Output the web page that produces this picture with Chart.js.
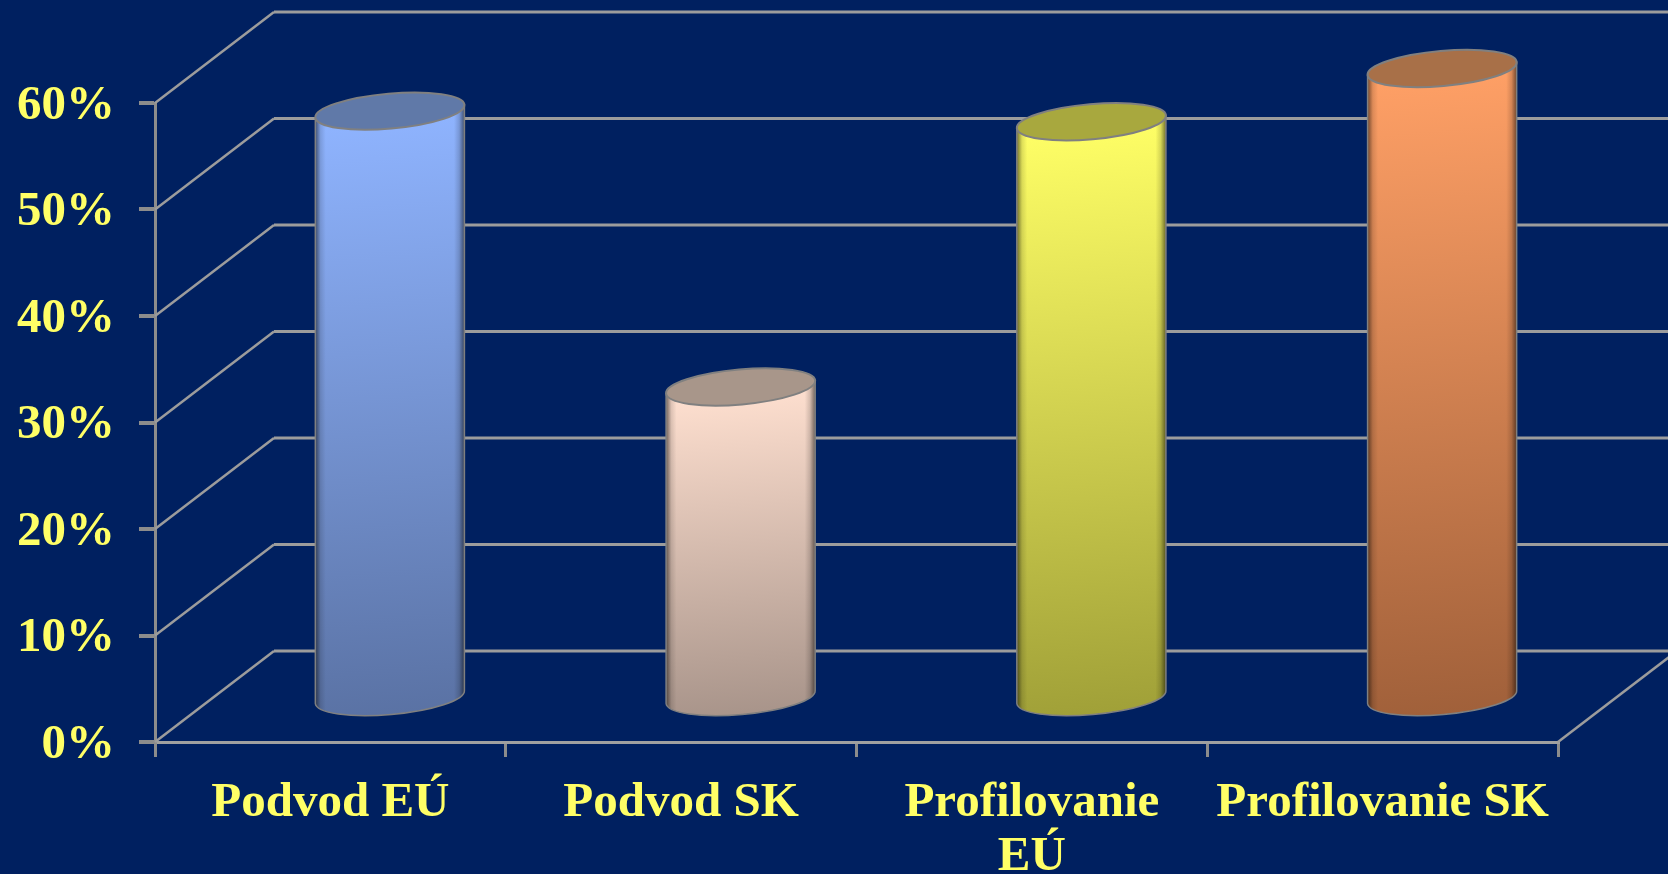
<!DOCTYPE html>
<html>
<head>
<meta charset="utf-8">
<style>html,body{margin:0;padding:0;background:#002060;overflow:hidden}canvas{display:block}</style>
<script src="https://cdn.jsdelivr.net/npm/chart.js@4"></script>
</head>
<body>
<canvas id="c" width="1668" height="874"></canvas>
<script>
const categories = ['Podvod EÚ', 'Podvod SK', ['Profilovanie', 'EÚ'], 'Profilovanie SK'];
const values = [55.2, 29.3, 54.2, 59.2];
const yTicksStep = 10;
const yMax = 60;

const topColors = ['#8fb4ff', '#ffe0d0', '#ffff66', '#ffa066'];
const bottomColors = ['#5a72a4', '#a8948a', '#a0a038', '#a0603a'];
const capColors = ['#6079a8', '#a8968a', '#a8a83e', '#a87048'];

const BG = '#002060', TEXT = '#ffff66', LINE = '#9c9c9c';
const DEPTH_X = 119, DEPTH_Y = -91, BAR_LIFT = 43;
const TILT = 5 * Math.PI / 180, MINOR = 17.5;

const wall3d = {
  id: 'wall3d',
  beforeDatasetsDraw(chart) {
    const {ctx, scales: {x, y}} = chart;
    ctx.save();
    ctx.strokeStyle = LINE;
    ctx.lineJoin = 'round';
    for (const t of y.ticks) {
      const py = y.getPixelForValue(t.value);
      ctx.lineWidth = 2.5;
      ctx.beginPath();
      ctx.moveTo(x.left, py);
      ctx.lineTo(x.left + DEPTH_X, py + DEPTH_Y);
      ctx.stroke();
      ctx.lineWidth = 3;
      ctx.beginPath();
      ctx.moveTo(x.left + DEPTH_X, py + DEPTH_Y);
      ctx.lineTo(x.right + DEPTH_X, py + DEPTH_Y);
      ctx.stroke();
    }
    const b = y.getPixelForValue(0);
    ctx.lineWidth = 2.5;
    ctx.beginPath();
    ctx.moveTo(x.right, b);
    ctx.lineTo(x.right + DEPTH_X, b + DEPTH_Y);
    ctx.stroke();
    ctx.restore();
  },
  beforeDatasetDraw(chart, args) {
    const ctx = chart.ctx;
    args.meta.data.forEach((el, i) => {
      const p = el.getProps(['x', 'y', 'base', 'width'], true);
      const cx = p.x + DEPTH_X / 2;
      const top = p.y - BAR_LIFT;
      const base = p.base - BAR_LIFT;
      const half = p.width / 2;
      const a = half / Math.cos(TILT);
      const rise = half * Math.tan(TILT);
      const silhouette = () => {
        ctx.beginPath();
        ctx.moveTo(cx - half, top + rise);
        ctx.lineTo(cx - half, base + rise);
        ctx.ellipse(cx, base, a, MINOR, -TILT, Math.PI, 0, true);
        ctx.lineTo(cx + half, top - rise);
        ctx.closePath();
      };
      ctx.save();
      const h = base + MINOR - top;
      const g = ctx.createLinearGradient(cx, top, cx + h * Math.sin(TILT), top + h * Math.cos(TILT));
      g.addColorStop(0, topColors[i]);
      g.addColorStop(1, bottomColors[i]);
      silhouette();
      ctx.fillStyle = g;
      ctx.fill();
      const e = ctx.createLinearGradient(cx - half, 0, cx + half, 0);
      e.addColorStop(0, 'rgba(0,0,0,0.55)');
      e.addColorStop(0.035, 'rgba(0,0,0,0.12)');
      e.addColorStop(0.07, 'rgba(0,0,0,0)');
      e.addColorStop(0.93, 'rgba(0,0,0,0)');
      e.addColorStop(0.965, 'rgba(0,0,0,0.15)');
      e.addColorStop(1, 'rgba(0,0,0,0.55)');
      ctx.fillStyle = e;
      ctx.fill();
      ctx.strokeStyle = '#808080';
      ctx.lineWidth = 1.5;
      ctx.stroke();
      ctx.beginPath();
      ctx.ellipse(cx, top, a, MINOR, -TILT, 0, Math.PI * 2);
      ctx.fillStyle = capColors[i];
      ctx.fill();
      ctx.strokeStyle = '#808080';
      ctx.lineWidth = 2;
      ctx.stroke();
      ctx.restore();
    });
    return false;
  }
};

new Chart(document.getElementById('c'), {
  type: 'bar',
  data: {
    labels: categories,
    datasets: [{
      data: values,
      backgroundColor: topColors,
      barPercentage: 0.425,
      categoryPercentage: 1,
      clip: false
    }]
  },
  plugins: [wall3d],
  options: {
    responsive: false,
    animation: false,
    layout: {padding: {top: 103, right: 110, left: 0, bottom: 0}},
    plugins: {legend: {display: false}, tooltip: {enabled: false}, title: {display: false}},
    scales: {
      x: {
        afterFit: s => { s.height = 132; },
        border: {color: '#a0a0a0', width: 3},
        grid: {drawOnChartArea: false, drawTicks: true, tickLength: 15, color: '#8c8c8c', lineWidth: 3},
        ticks: {
          color: TEXT, autoSkip: false, maxRotation: 0, minRotation: 0, padding: 19,
          font: {family: '"Liberation Serif"', size: 49, weight: 'bold', lineHeight: 1.1}
        }
      },
      y: {
        min: 0, max: yMax,
        afterFit: s => { s.width = 155; },
        border: {color: '#8c8c8c', width: 3},
        grid: {drawOnChartArea: false, drawTicks: true, tickLength: 16, color: '#8c8c8c', lineWidth: 4},
        ticks: {
          stepSize: yTicksStep, color: TEXT, padding: 24, labelOffset: 3,
          callback: v => v + '%',
          font: {family: '"Liberation Serif"', size: 49, weight: 'bold'}
        }
      }
    }
  }
});
</script>
</body>
</html>
